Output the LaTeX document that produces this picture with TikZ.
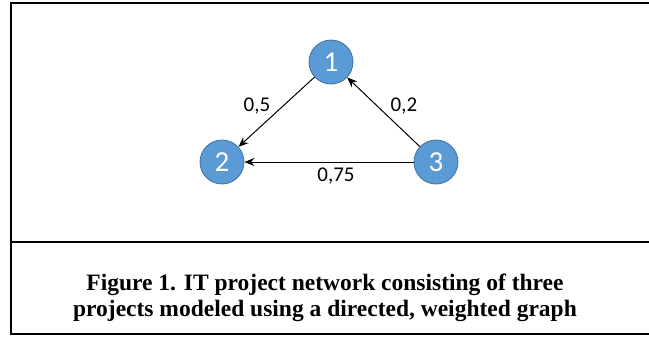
\documentclass[tikz,border=0pt]{standalone}
\usepackage{fontspec}
\setmainfont{Liberation Serif}
\newfontfamily\calib{Carlito}
\usetikzlibrary{arrows.meta}
\definecolor{nodeblue}{HTML}{5B9BD5}
\definecolor{nodeedge}{HTML}{41719C}
\begin{document}
\begin{tikzpicture}[x=1pt,y=-1pt,
  vert/.style={circle,fill=nodeblue,draw=nodeedge,line width=0.8pt,minimum size=44pt,inner sep=0pt,text=white,font=\calib\fontsize{29}{29}\selectfont},
  conn/.style={-{Stealth[length=10pt,width=8pt]},line width=1pt,black},
  wlabel/.style={font=\calib\fontsize{21}{21}\selectfont,inner sep=0pt},
  frameline/.style={line width=2.6pt,black}]
\useasboundingbox (0,0) rectangle (649,338);
% frame
\coordinate (tl) at (11,3);
\coordinate (tr) at (649,3);
\coordinate (ml) at (11,242);
\coordinate (mr) at (649,242);
\coordinate (bl) at (11,334);
\coordinate (br) at (649,334);
\draw[frameline] (tr) -- (tl) -- (bl) -- (br);
\draw[frameline] (ml) -- (mr);
% vertices
\node[vert] (n1) at (331,62) {1};
\node[vert] (n2) at (222,162) {2};
\node[vert] (n3) at (436,162) {3};
% edges
\draw[conn] (n1) -- (n2);
\draw[conn] (n3) -- (n1);
\draw[conn] (n3) -- (n2);
% weights
\node[wlabel] (w12) at (257,106) {0,5};
\node[wlabel] (w31) at (404,106) {0,2};
\node[wlabel] (w32) at (336,176) {0,75};
% caption
\node[font=\bfseries\fontsize{23.5}{26.5}\selectfont,align=center,inner sep=0pt] (cap) at (325,298)
  {Figure 1. IT project network consisting of three\\projects modeled using a directed, weighted graph};
\end{tikzpicture}
\end{document}
